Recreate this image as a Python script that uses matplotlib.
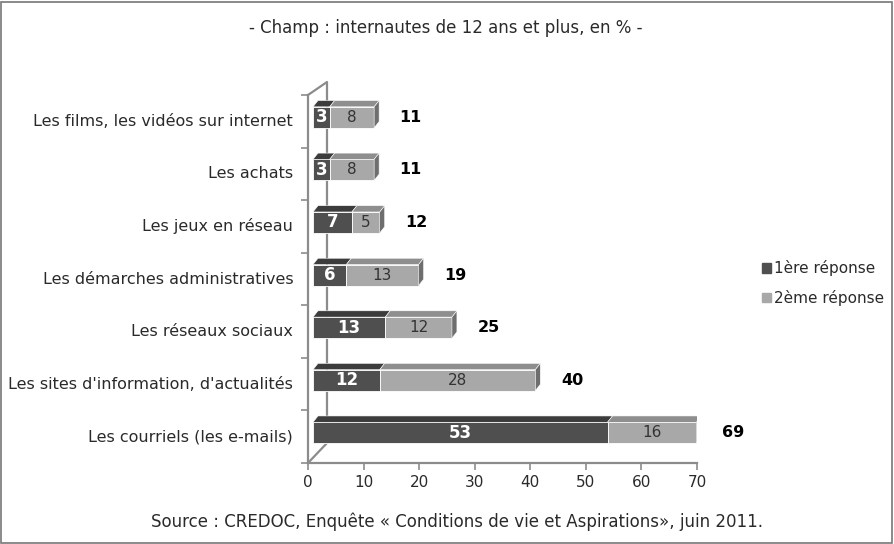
import matplotlib.pyplot as plt
from matplotlib.patches import Polygon, Patch, Rectangle

# Data (bottom to top)
categories = ["Les courriels (les e-mails)",
              "Les sites d'information, d'actualités",
              "Les réseaux sociaux",
              "Les démarches administratives",
              "Les jeux en réseau",
              "Les achats",
              "Les films, les vidéos sur internet"]
first = [53, 12, 13, 6, 7, 3, 3]
second = [16, 28, 12, 13, 5, 8, 8]
total = [69, 40, 25, 19, 12, 11, 11]
xticks = [0, 10, 20, 30, 40, 50, 60, 70]

dark, dark_top = '#4f4f4f', '#3c3c3c'
light, light_top, light_side = '#a8a8a8', '#8e8e8e', '#6e6e6e'
axis_col = '#8c8c8c'
txt_col = '#2a2a2a'

fig = plt.figure(figsize=(8.94, 5.44), dpi=100)
ax = fig.add_axes([308 / 894, 81 / 544, 389 / 894, 368 / 544])
ax.set_xlim(0, 70)
ax.set_ylim(-0.5, 6.5)

# fake 3D offsets (data units)
sx, sy = 0.9, 0.075   # shift of the bar front face
dx, dy = 0.9, 0.12    # depth of top / side face
h = 0.4

for i in range(len(categories)):
    y = i + sy
    segs = [(0, first[i], dark, dark_top), (first[i], second[i], light, light_top)]
    for left, w, col, topcol in segs:
        l = left + sx
        ax.barh(y, w, left=l, height=h, color=col, edgecolor='white', linewidth=0.6, zorder=3)
        top = y + h / 2
        ax.add_patch(Polygon([(l, top), (l + dx, top + dy), (l + w + dx, top + dy), (l + w, top)],
                             closed=True, facecolor=topcol, edgecolor='white', linewidth=0.4, zorder=3))
    r = total[i] + sx
    ax.add_patch(Polygon([(r, y - h / 2), (r, y + h / 2), (r + dx, y + h / 2 + dy), (r + dx, y - h / 2 + dy)],
                         closed=True, facecolor=light_side, edgecolor='white', linewidth=0.4, zorder=3))
    ax.text(first[i] / 2 + sx, y, str(first[i]), color='white', fontweight='bold',
            fontsize=12, ha='center', va='center', zorder=4)
    ax.text(first[i] + second[i] / 2 + sx, y, str(second[i]), color='#333333',
            fontsize=11, ha='center', va='center', zorder=4)
    ax.text(total[i] + 7.5, y, str(total[i]), color='black', fontweight='bold',
            fontsize=11.5, ha='center', va='center')

# axes look: 3D wall lines
for s in ['top', 'right', 'left']:
    ax.spines[s].set_visible(False)
ax.spines['bottom'].set_color(axis_col)
ax.spines['bottom'].set_linewidth(1.6)
ax.plot([0, 0], [0, 1], transform=ax.transAxes, color=axis_col, lw=1.6, clip_on=False, zorder=1)
bx, by0, by1 = 19 / 389, 20 / 368, 1 + 13 / 368
ax.plot([0, bx, bx, 0], [1, by1, by0, 0], transform=ax.transAxes,
        color=axis_col, lw=1.6, clip_on=False, zorder=1)

ax.set_xticks(xticks)
ax.tick_params(axis='x', colors=axis_col, labelcolor=txt_col, length=5, width=1.2, labelsize=11)
ax.set_yticks([i + 0.5 for i in range(-1, len(categories))])
ax.set_yticklabels([])
ax.tick_params(axis='y', colors=axis_col, length=5, width=1.2)
for i, c in enumerate(categories):
    ax.text(-0.038, (i + 0.5) / 7, c, transform=ax.transAxes, ha='right', va='center',
            fontsize=11.5, color=txt_col)

fig.text(446 / 894, 1 - 28 / 544, "- Champ : internautes de 12 ans et plus, en % -",
         ha='center', va='center', fontsize=12, color=txt_col)
fig.text(457 / 894, 1 - 522 / 544,
         "Source : CREDOC, Enquête « Conditions de vie et Aspirations», juin 2011.",
         ha='center', va='center', fontsize=12, color=txt_col)

handles = [Patch(color=dark, label='1ère réponse'), Patch(color=light, label='2ème réponse')]
fig.legend(handles=handles, loc='center left', bbox_to_anchor=(748 / 894, 1 - 283 / 544),
           frameon=False, fontsize=11, handlelength=0.6, handleheight=0.6,
           handletextpad=0.2, labelspacing=0.9, labelcolor=txt_col)

fig.add_artist(Rectangle((0.001, 0.002), 0.997, 0.995, transform=fig.transFigure,
                         fill=False, edgecolor='#777777', linewidth=1.2))

fig.savefig('out.png', dpi=100)
